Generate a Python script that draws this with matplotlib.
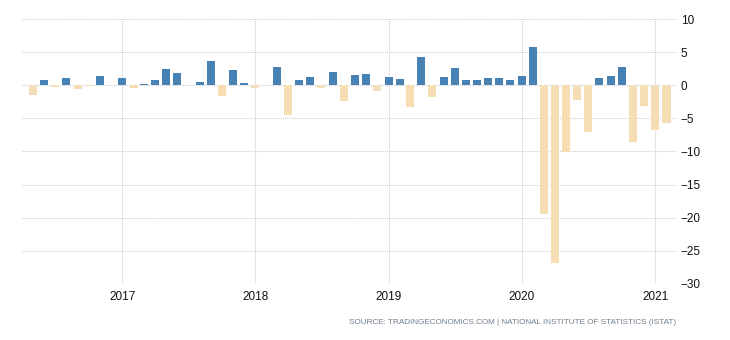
import numpy as np
import pandas as pd
import matplotlib
matplotlib.use('Agg')
import matplotlib.pyplot as plt
import matplotlib.dates as mdates

# monthly % change, May 2016 .. Feb 2021
months = pd.date_range('2016-05-01', '2021-02-01', freq='MS')
values = [
    -1.4, 0.8, -0.2, 1.1, -0.5, -0.1, 1.4, 0.0,             # 2016
    1.1, -0.4, 0.2, 0.8, 2.4, 1.8, 0.0, 0.5, 3.6, -1.6, 2.3, 0.3,   # 2017
    -0.4, 0.0, 2.7, -4.5, 0.8, 1.2, -0.4, 2.0, -2.4, 1.5, 1.7, -0.9,  # 2018
    1.2, 0.9, -3.3, 4.2, -1.8, 1.2, 2.6, 0.8, 0.8, 1.1, 1.1, 0.8,   # 2019
    1.4, 5.8, -19.4, -26.8, -10.1, -2.3, -7.1, 1.1, 1.4, 2.7, -8.5, -3.2,  # 2020
    -6.7, -5.7,                                              # 2021
]
yticks = [10, 5, 0, -5, -10, -15, -20, -25, -30]
source = 'SOURCE: TRADINGECONOMICS.COM | NATIONAL INSTITUTE OF STATISTICS (ISTAT)'

plt.rcParams['font.family'] = ['Liberation Sans', 'DejaVu Sans']

fig = plt.figure(figsize=(7.3, 3.4), dpi=100)
ax = fig.add_axes([0.030, 0.165, 0.897, 0.779])

vals = np.array(values)
colors = np.where(vals >= 0, '#4682b4', '#f5deb3')
ax.bar(months, vals, width=22, color=colors, zorder=2)

ax.set_xlim(pd.Timestamp('2016-04-01'), pd.Timestamp('2021-03-01'))
ax.set_ylim(-30, 10)
ax.set_yticks(yticks)
ax.xaxis.set_major_locator(mdates.YearLocator())
ax.xaxis.set_major_formatter(mdates.DateFormatter('%Y'))

ax.yaxis.tick_right()
ax.tick_params(axis='both', length=0, labelsize=8.5, colors='#111111')
ax.tick_params(axis='y', pad=3)
ax.tick_params(axis='x', pad=5)

ax.grid(True, color='#cccccc', linestyle=(0, (1, 1)), linewidth=0.75, zorder=0)
for s in ax.spines.values():
    s.set_visible(False)

fig.text(0.926, 0.05, source, ha='right', va='center', fontsize=5.9,
         color='#6f7f8f')

fig.savefig('out.png', dpi=100)
